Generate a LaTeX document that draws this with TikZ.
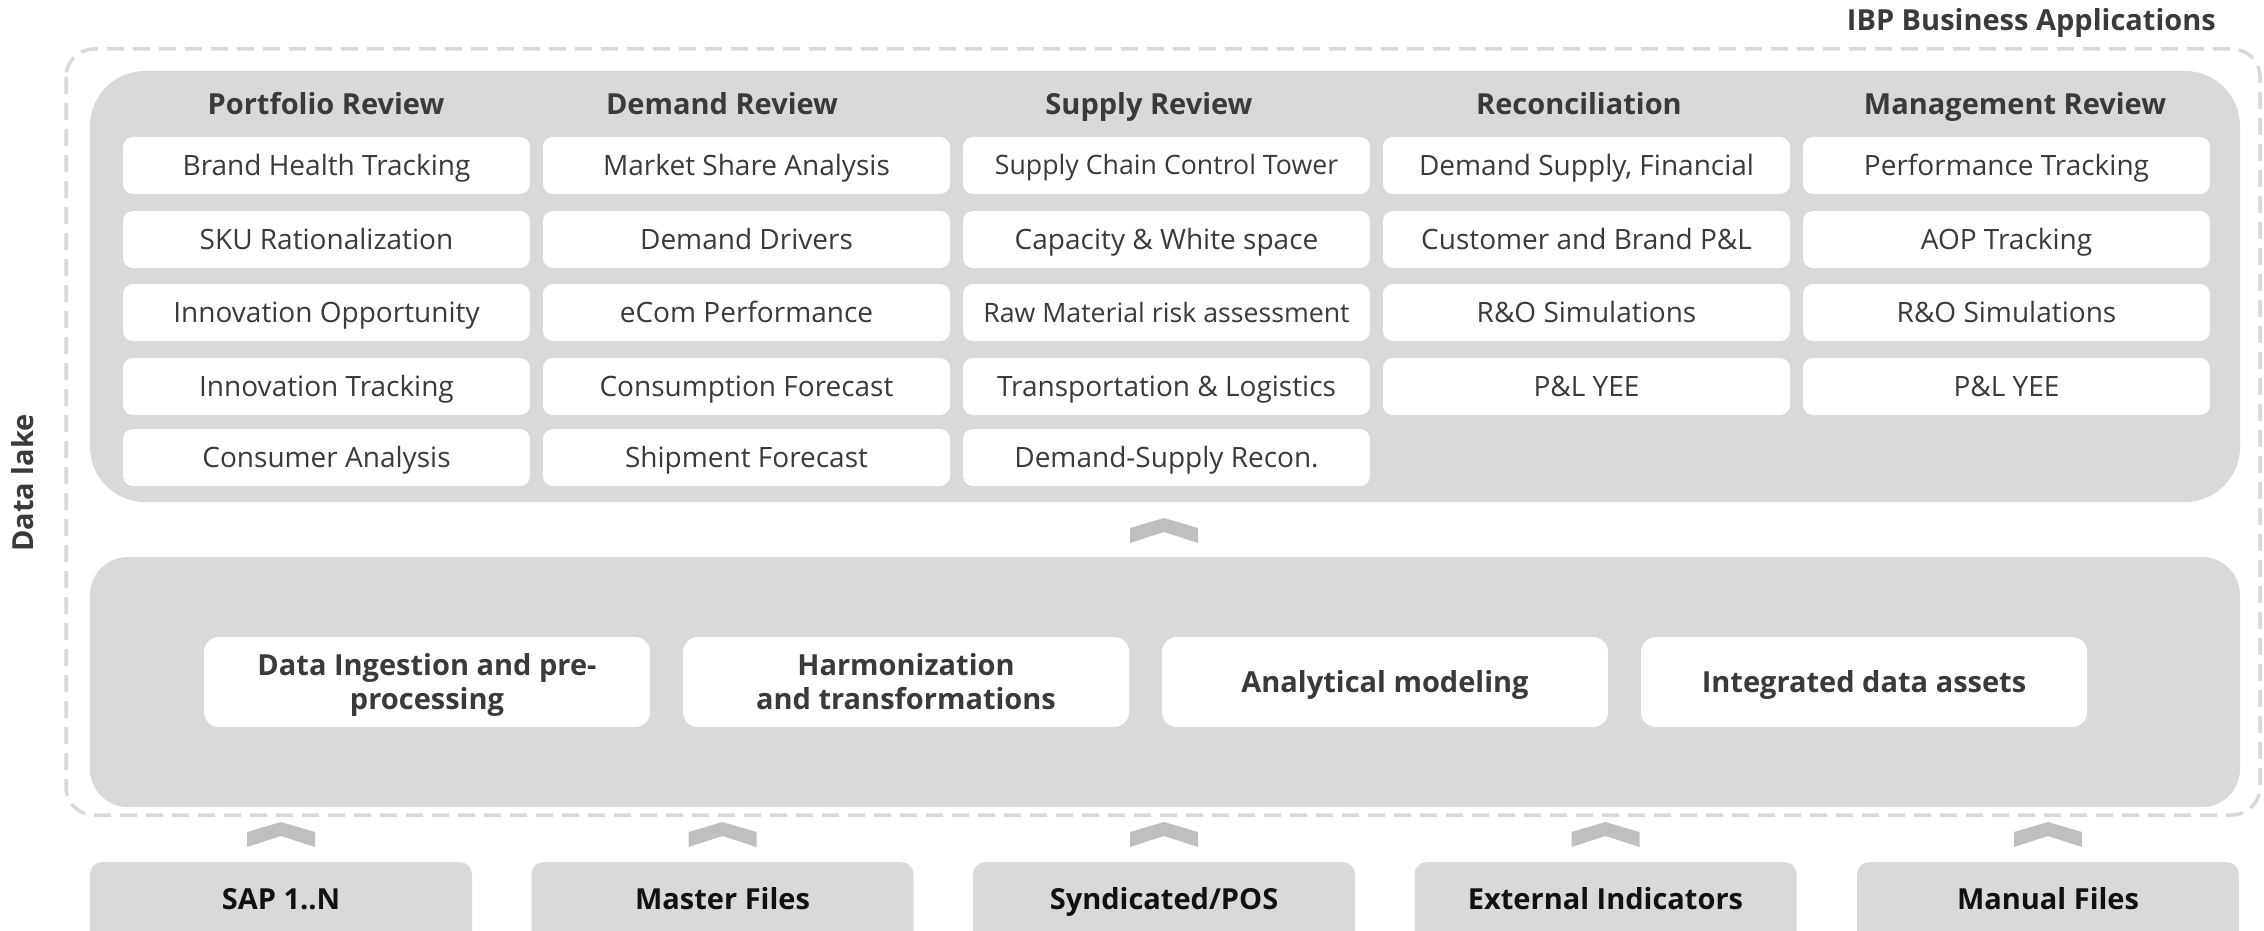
\documentclass[tikz,border=0pt]{standalone}
\usepackage{fontspec}
\setmainfont{Open Sans}
\usetikzlibrary{calc}
\definecolor{panelgray}{HTML}{D9D9D9}
\definecolor{chevgray}{HTML}{BFBFBF}
\definecolor{txtgray}{HTML}{3A3A3A}
\definecolor{dashgray}{HTML}{D9D9D9}
\definecolor{srctxt}{HTML}{111111}
\begin{document}
\begin{tikzpicture}[x=1pt,y=-1pt,
  hdr/.style={font=\fontsize{29}{34}\selectfont\bfseries, text=txtgray, inner sep=0pt, text height=20.7pt, text depth=0pt},
  cell/.style={fill=white, rounded corners=10pt, minimum width=407pt, minimum height=57pt, inner sep=0pt, text=txtgray, font=\fontsize{28}{32}\selectfont, text height=20pt, text depth=0pt},
  smallcell/.style={cell, font=\fontsize{26.7}{30}\selectfont, text height=19pt},
  procbox/.style={fill=white, rounded corners=15pt, minimum width=446pt, minimum height=90pt, inner sep=0pt, text=txtgray, align=center, font=\fontsize{29}{34}\selectfont\bfseries, text height=20.7pt, text depth=0pt},
  twoline/.style={text height=54.7pt, text depth=0pt},
  srcbox/.style={fill=panelgray, rounded corners=12pt, minimum width=382pt, minimum height=100pt, inner sep=0pt, anchor=north},
  srclabel/.style={font=\fontsize{29}{34}\selectfont\bfseries, text=srctxt, inner sep=0pt, text height=20.7pt, text depth=0pt},
  chevron/.pic={\fill[chevgray] (-34,10) -- (0,0) -- (34,10) -- (34,25) -- (0,14) -- (-34,25) -- cycle;}
]
\path[use as bounding box, clip] (0,0) rectangle (2264,931);

% titles
\node[font=\fontsize{29}{34}\selectfont\bfseries, text=txtgray, anchor=east, inner sep=0pt, text height=20.7pt, text depth=0pt] (ibp) at (2216,20) {IBP Business Applications};
\node[font=\fontsize{29}{34}\selectfont\bfseries, text=txtgray, rotate=90, inner sep=0pt, text height=20.7pt, text depth=0pt] (lake) at (23,483) {Data lake};

% dashed data lake frame
\draw[dashgray, line width=3.5pt, dash pattern=on 17pt off 9pt, rounded corners=28pt] (66,49) rectangle (2260,815);

% panels
\fill[panelgray, rounded corners=55pt] (90,71) rectangle (2240,502);
\coordinate (apps) at (1165,502);
\fill[panelgray, rounded corners=38pt] (90,557) rectangle (2240,807);
\coordinate (proc) at (1165,557);

% headers
\node[hdr] (h1) at (326,104) {Portfolio Review};
\node[hdr] (h2) at (722,104) {Demand Review};
\node[hdr] (h3) at (1149,104) {Supply Review};
\node[hdr] (h4) at (1579,104) {Reconciliation};
\node[hdr] (h5) at (2015,104) {Management Review};

% column 1
\node[cell] (c11) at (326.5,165.5) {Brand Health Tracking};
\node[cell] (c12) at (326.5,239.5) {SKU Rationalization};
\node[cell] (c13) at (326.5,312.5) {Innovation Opportunity};
\node[cell] (c14) at (326.5,386.5) {Innovation Tracking};
\node[cell] (c15) at (326.5,457.5) {Consumer Analysis};
% column 2
\node[cell] (c21) at (746.5,165.5) {Market Share Analysis};
\node[cell] (c22) at (746.5,239.5) {Demand Drivers};
\node[cell] (c23) at (746.5,312.5) {eCom Performance};
\node[cell] (c24) at (746.5,386.5) {Consumption Forecast};
\node[cell] (c25) at (746.5,457.5) {Shipment Forecast};
% column 3
\node[smallcell] (c31) at (1166.5,165.5) {Supply Chain Control Tower};
\node[cell] (c32) at (1166.5,239.5) {Capacity \& White space};
\node[smallcell] (c33) at (1166.5,312.5) {Raw Material risk assessment};
\node[cell] (c34) at (1166.5,386.5) {Transportation \& Logistics};
\node[cell] (c35) at (1166.5,457.5) {Demand-Supply Recon.};
% column 4
\node[cell] (c41) at (1586.5,165.5) {Demand Supply, Financial};
\node[cell] (c42) at (1586.5,239.5) {Customer and Brand P\&L};
\node[cell] (c43) at (1586.5,312.5) {R\&O Simulations};
\node[cell] (c44) at (1586.5,386.5) {P\&L YEE};
% column 5
\node[cell] (c51) at (2006.5,165.5) {Performance Tracking};
\node[cell] (c52) at (2006.5,239.5) {AOP Tracking};
\node[cell] (c53) at (2006.5,312.5) {R\&O Simulations};
\node[cell] (c54) at (2006.5,386.5) {P\&L YEE};

% processing boxes
\node[procbox, twoline] (p1) at (427,682) {Data Ingestion and pre-\\processing};
\node[procbox, twoline] (p2) at (906,682) {Harmonization\\and transformations};
\node[procbox] (p3) at (1385,682) {Analytical modeling};
\node[procbox] (p4) at (1864,682) {Integrated data assets};

% sources
\node[srcbox] (s1) at (281,862) {};
\node[srcbox] (s2) at (722.5,862) {};
\node[srcbox] (s3) at (1164,862) {};
\node[srcbox] (s4) at (1605.5,862) {};
\node[srcbox] (s5) at (2048,862) {};
\node[srclabel] (l1) at (281,899) {SAP 1..N};
\node[srclabel] (l2) at (722.5,899) {Master Files};
\node[srclabel] (l3) at (1164,899) {Syndicated/POS};
\node[srclabel] (l4) at (1605.5,899) {External Indicators};
\node[srclabel] (l5) at (2048,899) {Manual Files};

% chevrons
\pic at (1164,518) {chevron};
\pic at ($(s1.north)+(0,-40)$) {chevron};
\pic at ($(s2.north)+(0,-40)$) {chevron};
\pic at ($(s3.north)+(0,-40)$) {chevron};
\pic at ($(s4.north)+(0,-40)$) {chevron};
\pic at ($(s5.north)+(0,-40)$) {chevron};
\end{tikzpicture}
\end{document}
